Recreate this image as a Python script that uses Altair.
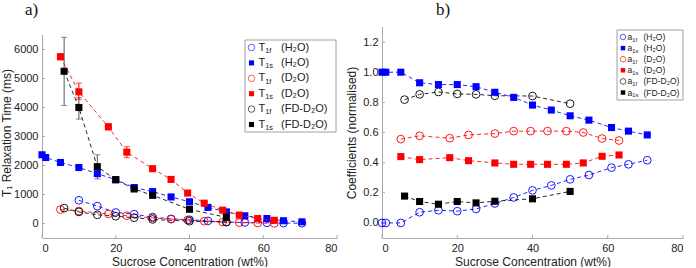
import altair as alt
import pandas as pd

# ---------------- data ----------------
conc_h2o = [0, 1, 5, 10, 15, 20, 25, 30, 35, 40, 45, 50, 55, 61, 65.5, 70.5]
t1s_h2o = [2370, 2275, 2105, 1930, 1720, 1510, 1240, 1100, 915, 750, 555, 400, 265, 172, 95, 58]
conc_h2o_f = [10, 15, 20, 25, 30, 35, 40, 45, 50, 55, 61, 65.5, 70.5]
t1f_h2o = [800, 600, 380, 320, 220, 160, 130, 90, 50, 35, 25, 15, 10]

conc_d2o = [5, 10, 18, 23, 30, 35, 39.5, 44, 49, 53.5, 58.5, 63]
t1s_d2o = [5750, 4540, 3330, 2460, 1890, 1520, 1050, 700, 460, 290, 170, 110]
t1f_d2o = [480, 430, 330, 270, 190, 150, 120, 80, 50, 30, 15, 5]

conc_fd = [6, 10, 15, 20, 25, 30, 40, 50]
t1s_fd = [5250, 4000, 1960, 1510, 1190, 970, 490, 210]
t1f_fd = [530, 400, 300, 250, 200, 140, 80, 50]

# error bars (T1s)
err_conc_fd = [6, 10, 15]
err_lo_fd = [4070, 3600, 1540]
err_hi_fd = [6420, 4340, 2370]
err_conc_d2o = [5, 10, 18, 23, 30]
err_lo_d2o = [5650, 4280, 3240, 2270, 1830]
err_hi_d2o = [5850, 4840, 3450, 2650, 1960]

# coefficients (normalised)
a1s_h2o = [1.0, 1.0, 1.0, 0.93, 0.918, 0.918, 0.904, 0.867, 0.833, 0.782, 0.749, 0.711, 0.682, 0.633, 0.609, 0.584]
a1f_h2o = [0.0, 0.0, 0.0, 0.071, 0.084, 0.078, 0.093, 0.129, 0.169, 0.216, 0.249, 0.289, 0.318, 0.367, 0.389, 0.416]
a1f_d2o = [0.556, 0.578, 0.562, 0.584, 0.593, 0.609, 0.609, 0.609, 0.609, 0.600, 0.560, 0.547]
a1s_d2o = [0.440, 0.420, 0.433, 0.413, 0.398, 0.389, 0.389, 0.389, 0.389, 0.398, 0.442, 0.451]
a1f_fd = [0.818, 0.853, 0.869, 0.856, 0.853, 0.844, 0.842, 0.791]
a1s_fd = [0.178, 0.142, 0.124, 0.142, 0.133, 0.144, 0.160, 0.209]

x_ticks = [0, 20, 40, 60, 80]
y_ticks_a = [0, 1000, 2000, 3000, 4000, 5000, 6000]
y_ticks_b = [0.0, 0.2, 0.4, 0.6, 0.8, 1.0, 1.2]

solvents = ["(H₂O)", "(H₂O)", "(D₂O)", "(D₂O)", "(FD-D₂O)", "(FD-D₂O)"]
subs = ["1f", "1s", "1f", "1s", "1f", "1s"]

BLUE, RED, BLACK = "#0000ff", "#ff0000", "#000000"
FONT = "Liberation Sans"
AXC = "#a8a8a8"
DUMMY = pd.DataFrame({"d": [0]})


def series_layers(xs, ys, color, filled, xsc, ysc, xax, yax, size):
    df = pd.DataFrame({"x": xs, "y": ys})
    base = alt.Chart(df).encode(
        x=alt.X("x:Q", scale=xsc, axis=xax),
        y=alt.Y("y:Q", scale=ysc, axis=yax),
    )
    line = base.mark_line(color=color, strokeDash=[4, 3], strokeWidth=1, opacity=0.85)
    if filled:
        pts = base.mark_point(shape="square", filled=True, color=color, size=size, opacity=1)
    else:
        pts = base.mark_point(shape="circle", filled=False, color=color, size=size * 1.2,
                              strokeWidth=1, opacity=0.9)
    return [line, pts]


def errbar_layers(xs, lo, hi, color, xsc, ysc, xax, yax):
    df = pd.DataFrame({"x": xs, "lo": lo, "hi": hi})
    rule = alt.Chart(df).mark_rule(color=color, strokeWidth=1).encode(
        x=alt.X("x:Q", scale=xsc, axis=xax),
        y=alt.Y("lo:Q", scale=ysc, axis=yax),
        y2="hi:Q",
    )
    caps = []
    for fld in ["lo", "hi"]:
        caps.append(alt.Chart(df).mark_tick(color=color, thickness=1, size=6, orient="horizontal").encode(
            x=alt.X("x:Q", scale=xsc, axis=xax),
            y=alt.Y(f"{fld}:Q", scale=ysc, axis=yax),
        ))
    return [rule] + caps


def tick_layers(xvals, yvals, xsc, ysc, xax, yax, H, dom_top):
    xt = alt.Chart(pd.DataFrame({"x": xvals})).mark_rule(color=AXC, strokeWidth=1).encode(
        x=alt.X("x:Q", scale=xsc, axis=xax), y=alt.value(H), y2=alt.value(H - 3))
    yt = alt.Chart(pd.DataFrame({"y": yvals})).mark_rule(color=AXC, strokeWidth=1).encode(
        y=alt.Y("y:Q", scale=ysc, axis=yax), x=alt.value(0), x2=alt.value(3))
    dom = alt.Chart(DUMMY).mark_rule(color=AXC, strokeWidth=1).encode(
        x=alt.value(0.5), y=alt.value(dom_top), y2=alt.value(H))
    return [xt, yt, dom]


def legend_layers(letter, box, y0, step, sym_x, let_x, par_x, fs, sym_size):
    layers = [alt.Chart(DUMMY).mark_rect(fill="white", stroke="#a0a0a0", strokeWidth=1).encode(
        x=alt.value(box[0]), x2=alt.value(box[1]), y=alt.value(box[2]), y2=alt.value(box[3]))]
    colors = [BLUE, BLUE, RED, RED, BLACK, BLACK]
    letter_w = {"T": 0.611, "a": 0.556}[letter] * fs
    for i in range(6):
        yy = y0 + i * step
        filled = (i % 2 == 1)
        if filled:
            sym = alt.Chart(DUMMY).mark_point(shape="square", filled=True, color=colors[i],
                                              size=sym_size, opacity=1)
        else:
            sym = alt.Chart(DUMMY).mark_point(shape="circle", filled=False, color=colors[i],
                                              size=sym_size * 1.6, strokeWidth=0.8, opacity=0.8)
        layers.append(sym.encode(x=alt.value(sym_x), y=alt.value(yy)))
        layers.append(alt.Chart(DUMMY).mark_text(align="left", baseline="middle", font=FONT,
                                                 fontSize=fs, color="#222222").encode(
            x=alt.value(let_x), y=alt.value(yy), text=alt.value(letter)))
        layers.append(alt.Chart(DUMMY).mark_text(align="left", baseline="middle", font=FONT,
                                                 fontSize=fs * 0.68, color="#222222").encode(
            x=alt.value(let_x + letter_w), y=alt.value(yy + fs * 0.3), text=alt.value(subs[i])))
        layers.append(alt.Chart(DUMMY).mark_text(align="left", baseline="middle", font=FONT,
                                                 fontSize=fs, color="#222222").encode(
            x=alt.value(par_x), y=alt.value(yy), text=alt.value(solvents[i])))
    return layers


def make_axis(title, values, fmt, tpad, domain=True):
    return alt.Axis(title=title, values=values, format=fmt, grid=False, ticks=False,
                    domain=domain, domainColor=AXC, labelFont=FONT, labelFontSize=11,
                    labelColor="#222222", labelPadding=4, titleFont=FONT, titleFontSize=12,
                    titleFontWeight="normal", titleColor="#222222", titlePadding=tpad)


H = 211  # common plot height (both panels share the same top/bottom)
PX_PER_MS = 203 / 7000.0  # left panel: -500..6500 over its visible axis height

# ---------------- panel a ----------------
WA = 295
top_a = 6500 + (H - 203) / PX_PER_MS
xs_a = alt.Scale(domain=[0, 80], nice=False, zero=False)
ys_a = alt.Scale(domain=[-500, top_a], nice=False, zero=False)
xax_a = make_axis("Sucrose Concentration (wt%)", x_ticks, "d", 3)
yax_a = make_axis("T₁ Relaxation Time (ms)", y_ticks_a, "d", 0, domain=False)

la = []
la += tick_layers(x_ticks, y_ticks_a, xs_a, ys_a, xax_a, yax_a, H, H - 203)
la += errbar_layers(err_conc_fd, err_lo_fd, err_hi_fd, "#555555", xs_a, ys_a, xax_a, yax_a)
la += errbar_layers(err_conc_d2o, err_lo_d2o, err_hi_d2o, RED, xs_a, ys_a, xax_a, yax_a)
la += series_layers(conc_h2o_f, t1f_h2o, BLUE, False, xs_a, ys_a, xax_a, yax_a, 50)
la += series_layers(conc_d2o, t1f_d2o, RED, False, xs_a, ys_a, xax_a, yax_a, 50)
la += series_layers(conc_fd, t1f_fd, BLACK, False, xs_a, ys_a, xax_a, yax_a, 50)
la += series_layers(conc_h2o, t1s_h2o, BLUE, True, xs_a, ys_a, xax_a, yax_a, 50)
la += series_layers(conc_d2o, t1s_d2o, RED, True, xs_a, ys_a, xax_a, yax_a, 50)
la += series_layers(conc_fd, t1s_fd, BLACK, True, xs_a, ys_a, xax_a, yax_a, 50)
la += legend_layers("T", (203, 294, 13, 105), 20.5, 15.4, 209.5, 216.5, 239, 11, 26)

panel_a = alt.layer(*la).properties(
    width=WA, height=H,
    title=alt.TitleParams("a)", anchor="start", frame="group", dx=-17, offset=8,
                          font="Liberation Serif", fontSize=17, fontWeight="normal", color="#111111"))

# ---------------- panel b ----------------
WB = 301
xs_b = alt.Scale(domain=[0, 80], nice=False, zero=False)
ys_b = alt.Scale(domain=[-0.1, 1.3], nice=False, zero=False)
xax_b = make_axis("Sucrose Concentration (wt%)", x_ticks, "d", 3)
yax_b = make_axis("Coefficients (normalised)", y_ticks_b, ".1f", 4, domain=False)

lb = []
lb += tick_layers(x_ticks, y_ticks_b, xs_b, ys_b, xax_b, yax_b, H, 0)
lb += series_layers(conc_h2o, a1f_h2o, BLUE, False, xs_b, ys_b, xax_b, yax_b, 50)
lb += series_layers(conc_d2o, a1f_d2o, RED, False, xs_b, ys_b, xax_b, yax_b, 50)
lb += series_layers(conc_fd, a1f_fd, BLACK, False, xs_b, ys_b, xax_b, yax_b, 50)
lb += series_layers(conc_h2o, a1s_h2o, BLUE, True, xs_b, ys_b, xax_b, yax_b, 50)
lb += series_layers(conc_d2o, a1s_d2o, RED, True, xs_b, ys_b, xax_b, yax_b, 50)
lb += series_layers(conc_fd, a1s_fd, BLACK, True, xs_b, ys_b, xax_b, yax_b, 50)
lb += legend_layers("a", (235, 301, 3, 73), 10, 11.1, 241, 245.5, 261.5, 8.5, 20)

panel_b = alt.layer(*lb).properties(
    width=WB, height=H,
    title=alt.TitleParams("b)", anchor="start", frame="group", dx=54, offset=8,
                          font="Liberation Serif", fontSize=17, fontWeight="normal", color="#111111"))

chart = alt.hconcat(panel_a, panel_b, spacing=7).properties(
    padding={"left": 0, "top": 0, "right": 0, "bottom": 0},
    background="white",
).configure_view(stroke=None)

chart.save("out.html", embed_options={"renderer": "svg", "actions": False})
